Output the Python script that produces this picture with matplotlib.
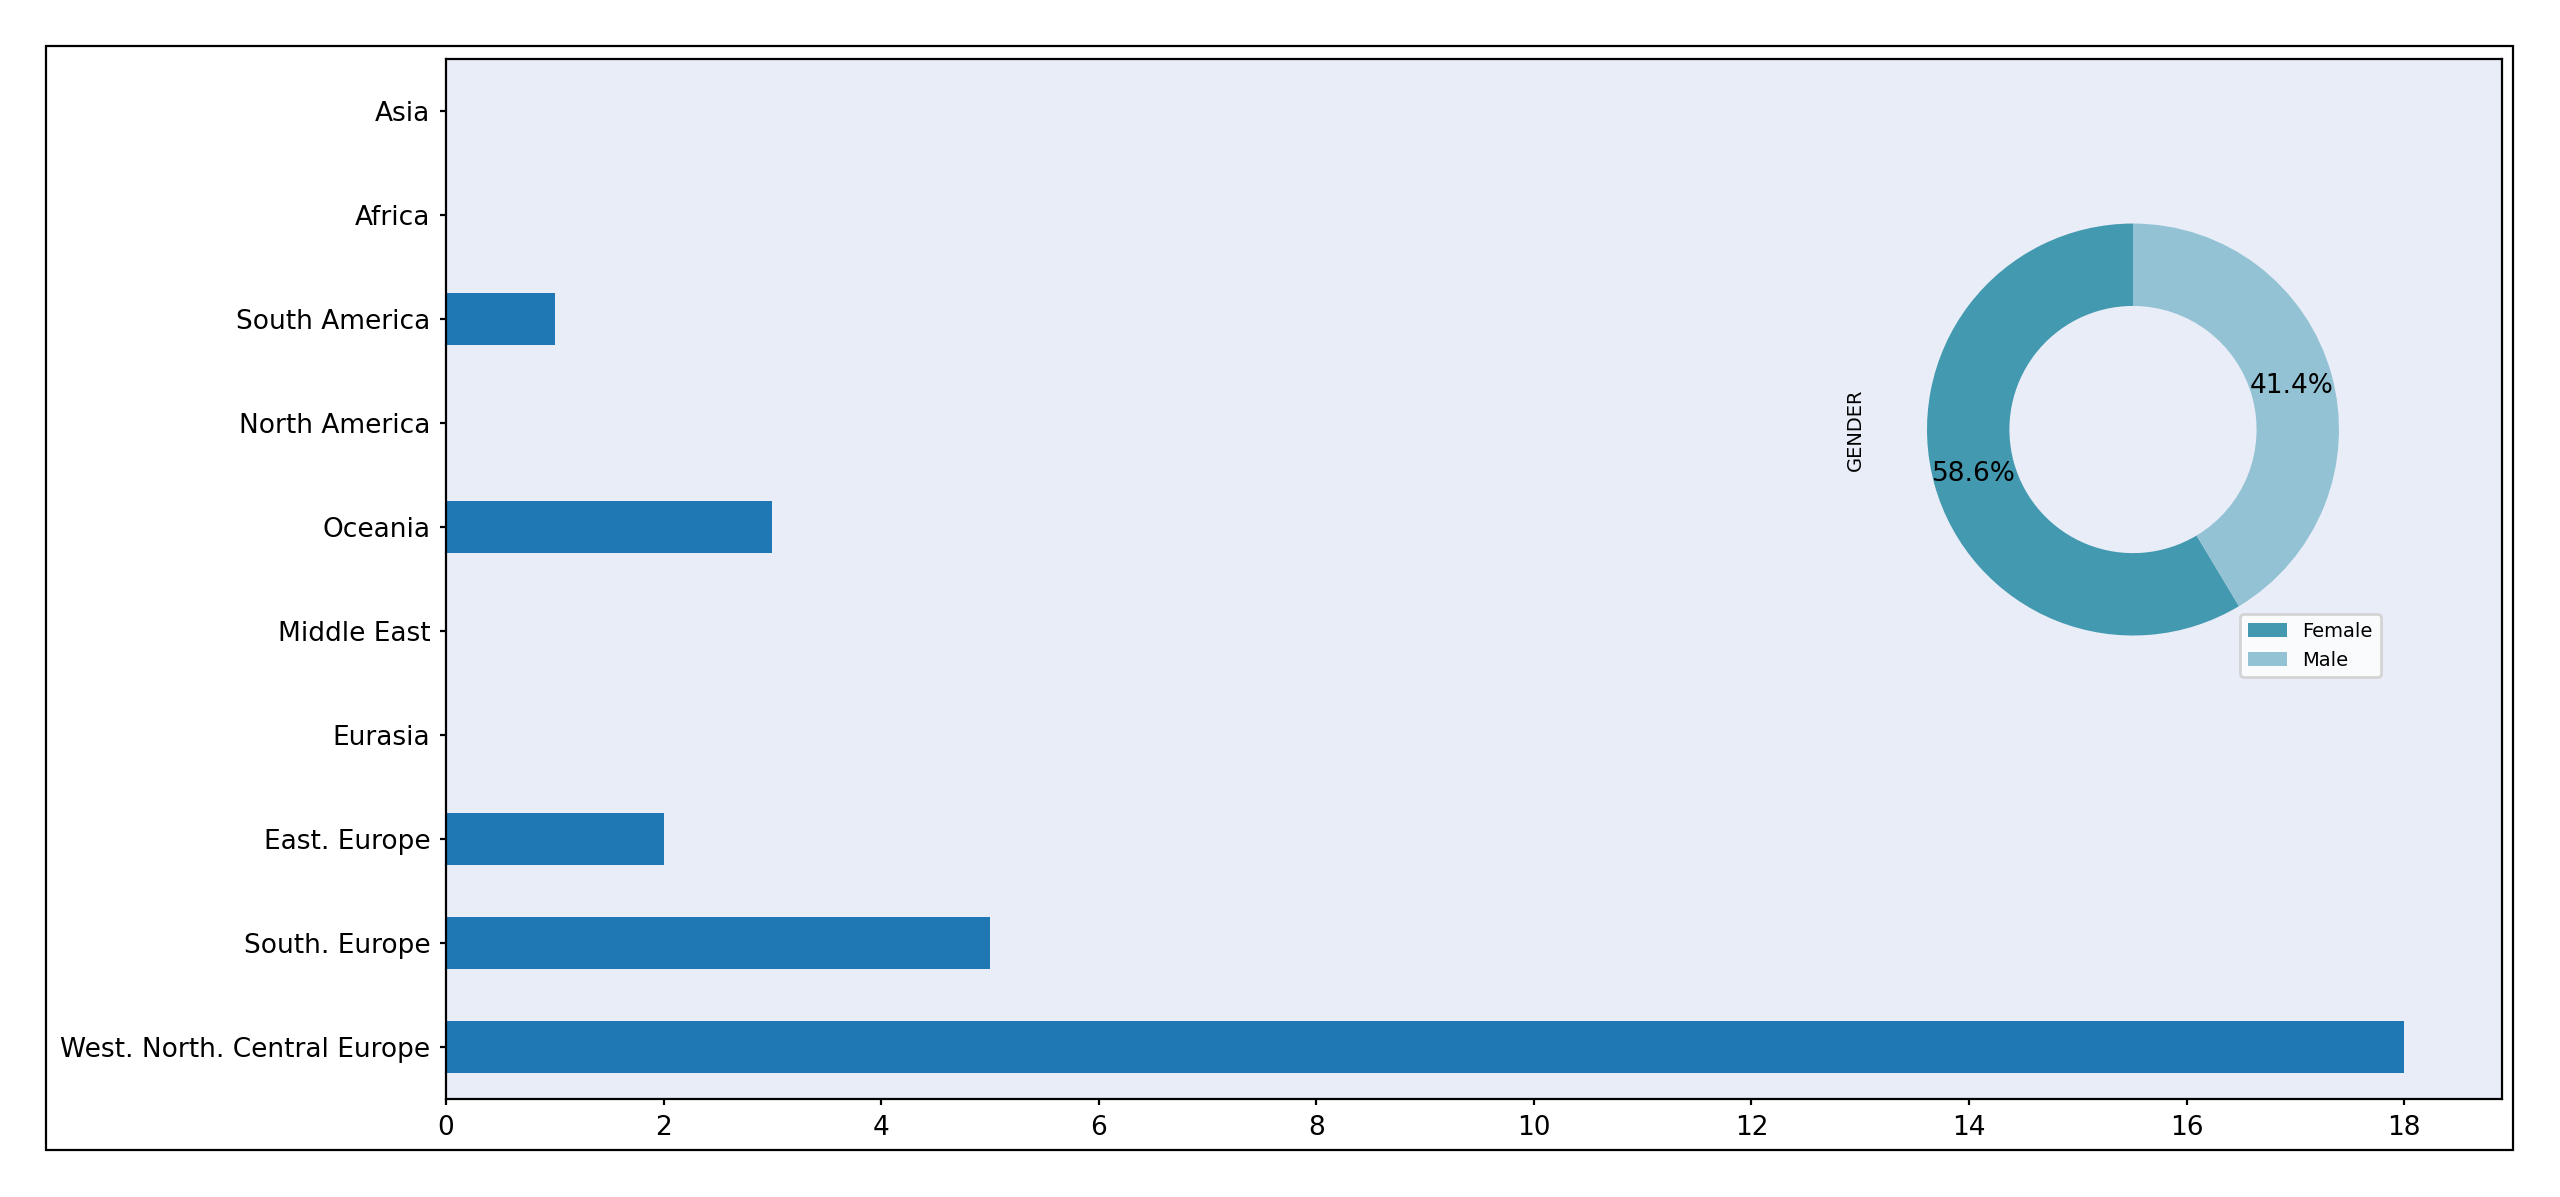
import matplotlib
matplotlib.use('Agg')
import matplotlib.pyplot as plt
from matplotlib.patches import Rectangle

# region counts (bottom to top, as in the chart)
regions = ['West. North. Central Europe', 'South. Europe', 'East. Europe', 'Eurasia',
           'Middle East', 'Oceania', 'North America', 'South America', 'Africa', 'Asia']
counts = [18, 5, 2, 0, 0, 3, 0, 1, 0, 0]

# gender split
genders = ['Female', 'Male']
gender_share = [58.6, 41.4]
gender_colors = ['#4299B0', '#92C2D4']

W, H, DPI = 2560, 1197, 200
fig = plt.figure(figsize=(W / DPI, H / DPI), dpi=DPI)

# outer frame around everything
fig.patches.append(Rectangle((46 / W, 1 - 1150 / H), 2467 / W, 1104 / H,
                             transform=fig.transFigure, fill=False,
                             edgecolor='black', linewidth=0.8))

# main horizontal bar chart
ax = fig.add_axes([446 / W, 1 - 1099 / H, (2502 - 446) / W, (1099 - 59) / H])
ax.set_facecolor('#E8EDF7')
ypos = list(range(len(regions)))
ax.barh(ypos, counts, height=0.5, color='#1f77b4')
ax.set_yticks(ypos)
ax.set_yticklabels(regions)
ax.set_ylim(-0.5, len(regions) - 0.5)
ax.set_xlim(0, max(counts) * 1.05)
ax.set_xticks(range(0, 19, 2))
ax.tick_params(labelsize=9.5, length=2.2, width=0.8)

# donut chart of gender inset on the right
pax = fig.add_axes([0.7326, 1 - 687 / H, 0.2012, 0.4302])
wedges, texts, autotexts = pax.pie(gender_share, colors=gender_colors, startangle=90,
                                   autopct='%1.1f%%', pctdistance=0.8,
                                   wedgeprops=dict(width=0.4),
                                   textprops=dict(fontsize=9.5))
pax.set_ylabel('GENDER', fontsize=7)
pax.legend(wedges, genders, loc='lower right', fontsize=7)

fig.savefig('out.png', dpi=DPI)
